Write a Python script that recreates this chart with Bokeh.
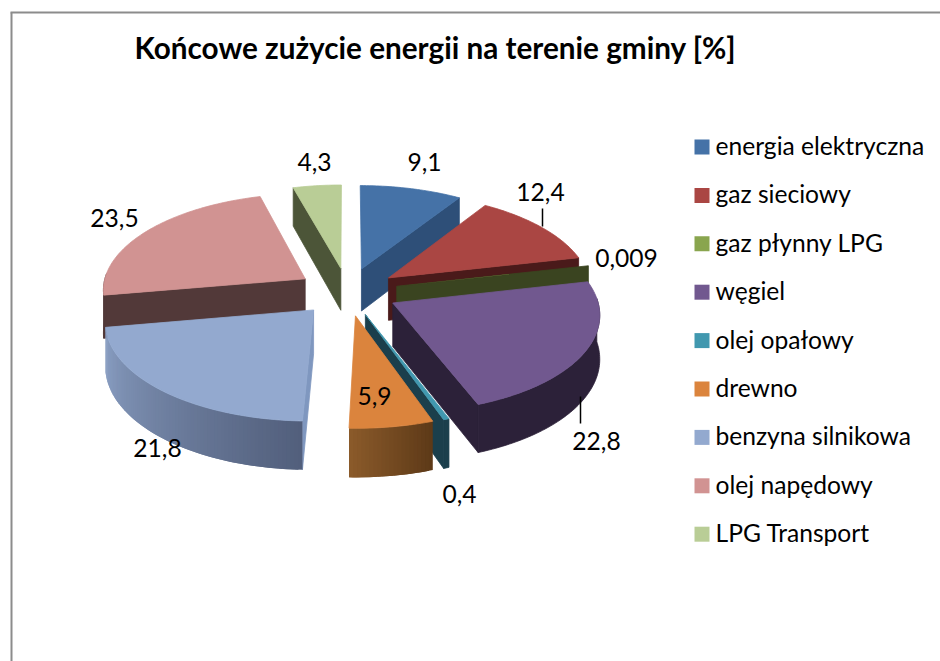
import math
from bokeh.plotting import figure
from bokeh.models import Range1d, ColumnDataSource
from bokeh.core.properties import value
from bokeh.embed import file_html
from bokeh.resources import INLINE

title = "Końcowe zużycie energii na terenie gminy [%]"
categories = ["energia elektryczna", "gaz sieciowy", "gaz płynny LPG", "węgiel", "olej opałowy",
              "drewno", "benzyna silnikowa", "olej napędowy", "LPG Transport"]
values = [9.1, 12.4, 0.009, 22.8, 0.4, 5.9, 21.8, 23.5, 4.3]
value_labels = ["9,1", "12,4", "0,009", "22,8", "0,4", "5,9", "21,8", "23,5", "4,3"]

top_colors = ["#4572a7", "#aa4643", "#89a54e", "#71588f", "#4198af", "#db843d", "#93a9cf", "#d19392", "#b9cd96"]
side_colors = ["#2e4f78", "#4a1a1a", "#3a4420", "#2c2139", "#1b3f4c", "#5e3a18", "#7f97bf", "#523939", "#4c5538"]
arc_from = ["#2e4f78", "#4a1a1a", "#3a4420", "#2c2139", "#1b3f4c", "#5e3a18", "#525f7c", "#523939", "#4c5538"]
arc_to = ["#2e4f78", "#4a1a1a", "#3a4420", "#2c2139", "#1b3f4c", "#8a5a2a", "#8ba0c4", "#523939", "#4c5538"]

# layout
CX, CY, RX, RY, PERSP, EXPLODE, WALL = 347, 291, 203, 96, 0.10, 0.25, 43
LABEL_XY = [(424, 161), (540, 191), (626, 257), (596, 440), (459, 493), (374, 395), (157, 447), (114, 217), (314, 161)]
LEADERS = {1: ((542, 208), (542, 226)), 3: ((580, 396), (580, 423))}
PAINT_ORDER = [8, 0, 7, 1, 2, 3, 6, 4, 5]
FONT = "Lato"


def project(X, Y, z=0.0):
    s = 1.0 / (1.0 + PERSP * Y)
    return CX + RX * X * s, CY - RY * Y * s + z * s


def mix(c1, c2, t):
    a = [int(c1[i:i + 2], 16) for i in (1, 3, 5)]
    b = [int(c2[i:i + 2], 16) for i in (1, 3, 5)]
    return "#%02x%02x%02x" % tuple(round(a[j] + (b[j] - a[j]) * t) for j in range(3))


total = sum(values)
starts = []
acc = 0.0
for v in values:
    starts.append(acc)
    acc += v / total * 360.0

xs, ys, fills, strokes = [], [], [], []


def add(points, color, stroke=0.8):
    xs.append([q[0] for q in points])
    ys.append([q[1] for q in points])
    fills.append(color)
    strokes.append(stroke)


for i in PAINT_ORDER:
    a0 = starts[i]
    a1 = a0 + values[i] / total * 360.0
    mid = math.radians((a0 + a1) / 2)
    ox, oy = EXPLODE * math.sin(mid), EXPLODE * math.cos(mid)
    n = max(2, int((a1 - a0) / 1.0))
    angs = [math.radians(a0 + (a1 - a0) * k / n) for k in range(n + 1)]
    rim = [(ox + math.sin(t), oy + math.cos(t)) for t in angs]
    apex = (ox, oy)

    def wall(P, Q):
        return [project(*P), project(*Q), project(*Q, WALL), project(*P, WALL)]

    if a0 > 180:
        add(wall(apex, rim[0]), side_colors[i])
    if a1 < 180:
        add(wall(apex, rim[-1]), side_colors[i])
    front = [k for k in range(n) if math.cos((angs[k] + angs[k + 1]) / 2) < 0.05]
    if front and arc_from[i] == arc_to[i]:
        run = rim[front[0]:front[-1] + 2]
        add([project(*q) for q in run] + [project(*q, WALL) for q in reversed(run)], arc_from[i])
    else:
        for k in front:
            # each strip runs under the next one, so no background shows at the seams
            add(wall(rim[k], rim[min(k + 2, n)]), mix(arc_from[i], arc_to[i], k / max(1, n - 1)), 0)
    add([project(*apex)] + [project(*q) for q in rim], top_colors[i], 0.8 if a1 - a0 > 0.1 else 0)

p = figure(width=940, height=661, output_backend="svg", toolbar_location=None,
           x_range=Range1d(0, 940), y_range=Range1d(661, 0),
           min_border=0, outline_line_color=None, background_fill_color="white")
p.axis.visible = False
p.grid.visible = False

# chart frame
p.line([11, 11], [661, 12], line_color="#8c8c8c", line_width=2)
p.line([10, 940], [12, 12], line_color="#8c8c8c", line_width=2)

src = ColumnDataSource(dict(xs=xs, ys=ys, fill=fills, lw=strokes))
p.patches("xs", "ys", source=src, fill_color="fill", line_color="fill", line_width="lw")

for (a, b) in LEADERS.values():
    p.line([a[0], b[0]], [a[1], b[1]], line_color="black", line_width=1.5)

p.text([134], [47], text=[title], text_font=value(FONT), text_font_style="bold",
       text_font_size="29.7px", text_baseline="middle", text_color="black")
p.text([q[0] for q in LABEL_XY], [q[1] for q in LABEL_XY], text=value_labels, text_font=value(FONT),
       text_font_size="24.6px", text_align="center", text_baseline="middle", text_color="black")

leg_y = [146.5 + 48.4 * k for k in range(len(categories))]
p.rect([701.5] * len(categories), leg_y, width=15, height=15, fill_color=top_colors, line_color=None)
p.text([715] * len(categories), [y - 1.5 for y in leg_y], text=categories, text_font=value(FONT),
       text_font_size="24.6px", text_baseline="middle", text_color="black")

open("out.html", "w").write(file_html(p, INLINE))
